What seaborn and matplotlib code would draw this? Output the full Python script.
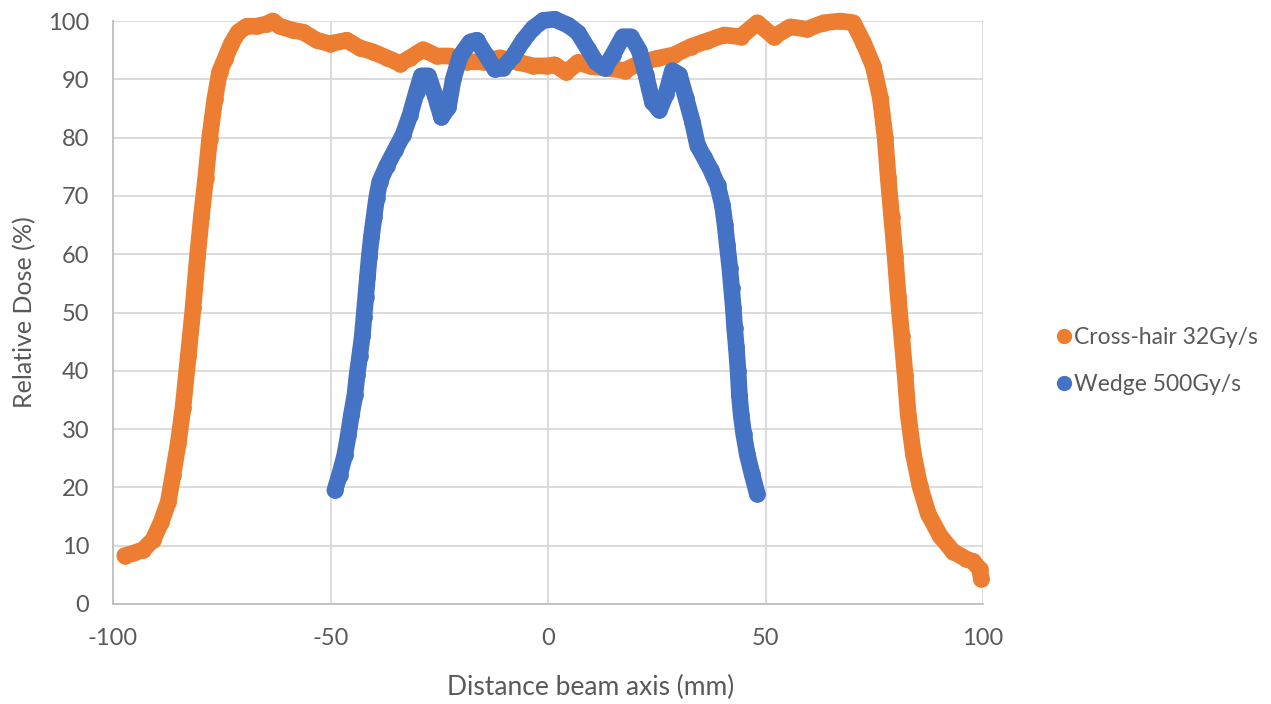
import matplotlib
matplotlib.use("Agg")
import matplotlib.pyplot as plt
import seaborn as sns
from matplotlib.lines import Line2D

# Cross-hair 32Gy/s profile
cross_x = [-97.3, -95.4, -93.1, -90.8, -88.9, -87.3, -86.2, -85.0, -83.9, -82.7,
           -81.6, -80.6, -79.7, -78.7, -77.8, -76.6, -75.5, -74.3, -72.8, -71.2,
           -69.3, -67.0, -64.7, -63.3, -61.7, -58.6, -56.3, -53.2, -50.2, -46.3,
           -43.3, -40.2, -37.1, -34.0, -31.7, -28.7, -25.6, -22.5, -18.7, -14.9,
           -11.0, -7.2, -3.4, -0.3, 1.5, 4.2, 6.9, 9.9, 13.7, 17.6,
           21.4, 25.2, 29.0, 32.8, 36.6, 40.5, 44.3, 48.1, 51.9, 55.7,
           59.5, 63.4, 67.2, 70.2, 72.5, 74.8, 76.4, 77.5, 78.2, 79.0,
           79.8, 80.5, 81.3, 82.1, 82.8, 84.0, 85.5, 87.4, 90.1, 93.1,
           96.2, 97.7, 99.2, 99.6]
cross_y = [8.3, 8.7, 9.3, 11.0, 14.1, 17.5, 22.2, 27.6, 33.7, 42.5,
           50.7, 59.5, 66.3, 73.0, 79.8, 86.6, 91.3, 93.4, 96.1, 98.1,
           99.1, 99.1, 99.5, 100.0, 99.1, 98.4, 98.1, 96.7, 96.1, 96.7,
           95.4, 94.7, 93.7, 92.7, 93.7, 95.1, 94.0, 94.0, 93.0, 93.0,
           93.7, 93.0, 92.3, 92.3, 92.5, 91.2, 92.9, 92.2, 91.9, 91.5,
           92.9, 93.6, 94.2, 95.6, 96.6, 97.6, 97.3, 99.7, 97.3, 99.0,
           98.6, 99.7, 100.0, 99.7, 96.3, 92.2, 86.8, 80.0, 73.2, 66.4,
           59.6, 52.8, 46.0, 39.2, 32.5, 25.7, 20.2, 15.5, 11.7, 9.0,
           7.7, 7.3, 6.0, 4.3]

# Wedge 500Gy/s profile
wedge_x = [-49.0, -47.9, -46.7, -45.9, -45.2, -44.4, -43.9, -43.3, -42.7, -42.3,
           -41.9, -41.5, -41.1, -40.6, -40.0, -39.4, -38.7, -37.1, -35.2, -33.3,
           -31.7, -30.2, -29.1, -27.5, -26.0, -24.5, -22.9, -21.8, -20.2, -17.9,
           -16.4, -14.1, -12.2, -10.3, -8.0, -5.7, -3.4, -1.1, 1.5, 4.6,
           6.9, 9.2, 11.1, 13.0, 14.9, 17.2, 19.1, 21.0, 22.5, 24.0,
           25.6, 27.1, 28.6, 30.2, 31.7, 33.2, 34.4, 35.9, 37.4, 39.0,
           40.1, 40.7, 41.2, 41.8, 42.2, 42.6, 42.9, 43.3, 43.7, 44.0,
           44.4, 45.0, 45.8, 46.9, 48.1]
wedge_y = [19.5, 22.2, 25.6, 29.0, 32.4, 35.8, 39.2, 42.5, 45.9, 49.3,
           52.7, 56.1, 59.5, 62.9, 66.3, 69.6, 72.4, 75.1, 77.8, 80.5,
           83.9, 87.9, 90.6, 90.6, 87.3, 83.5, 85.2, 90.0, 94.0, 96.4,
           96.7, 94.0, 91.7, 92.0, 94.0, 96.7, 98.8, 100.1, 100.3, 99.3,
           98.0, 95.2, 92.9, 91.9, 94.2, 97.3, 97.3, 94.9, 90.8, 86.1,
           84.7, 87.4, 91.5, 90.8, 86.8, 82.7, 78.6, 76.6, 74.5, 71.8,
           68.4, 65.0, 61.6, 57.6, 54.2, 50.8, 47.4, 44.0, 39.9, 35.8,
           32.5, 29.1, 25.7, 22.3, 18.9]

x_ticks = [-100, -50, 0, 50, 100]
y_ticks = [0, 10, 20, 30, 40, 50, 60, 70, 80, 90, 100]

orange = "#ED7D31"
blue = "#4472C4"
grey = "#595959"

sns.set_style("white")
plt.rcParams["font.family"] = ["Lato", "DejaVu Sans"]
plt.rcParams["axes.unicode_minus"] = False

fig = plt.figure(figsize=(12.71, 7.04), dpi=100)
ax = fig.add_axes([113 / 1271, 1 - 604 / 704, 870 / 1271, 583 / 704])

ms = 12
sns.lineplot(x=cross_x, y=cross_y, ax=ax, color=orange, linewidth=ms, sort=False,
             marker="o", markersize=ms, markeredgewidth=0, clip_on=False, zorder=3)
sns.lineplot(x=wedge_x, y=wedge_y, ax=ax, color=blue, linewidth=ms, sort=False,
             marker="o", markersize=ms, markeredgewidth=0, clip_on=False, zorder=4)

ax.set_xlim(-100, 100)
ax.set_ylim(0, 100)
ax.set_xticks(x_ticks)
ax.set_yticks(y_ticks)
ax.grid(True, color="#d9d9d9", linewidth=1.3)
ax.set_axisbelow(True)
for side in ["top", "right"]:
    ax.spines[side].set_visible(False)
for side in ["left", "bottom"]:
    ax.spines[side].set_color("#bfbfbf")
    ax.spines[side].set_linewidth(1.3)
ax.tick_params(axis="both", labelsize=17, labelcolor=grey)
ax.tick_params(axis="y", length=5, width=1.3, color="#bfbfbf", pad=12)
ax.tick_params(axis="x", length=0, pad=17)

ax.set_xlabel("Distance beam axis (mm)", fontsize=19, color=grey)
ax.set_ylabel("Relative Dose (%)", fontsize=18, color=grey)
ax.xaxis.set_label_coords(0.549, -0.122)
ax.yaxis.set_label_coords(-0.088, 0.5)

handles = [Line2D([], [], linestyle="none", marker="o", markersize=11,
                  markeredgewidth=0, color=orange),
           Line2D([], [], linestyle="none", marker="o", markersize=11,
                  markeredgewidth=0, color=blue)]
fig.legend(handles, ["Cross-hair 32Gy/s", "Wedge 500Gy/s"], loc="center left",
           bbox_to_anchor=(1043 / 1271, 1 - 361 / 704), frameon=False,
           fontsize=16.5, labelcolor=grey, handletextpad=0.05, handlelength=0.8,
           labelspacing=1.1, borderpad=0)

fig.savefig("out.png", dpi=100)
